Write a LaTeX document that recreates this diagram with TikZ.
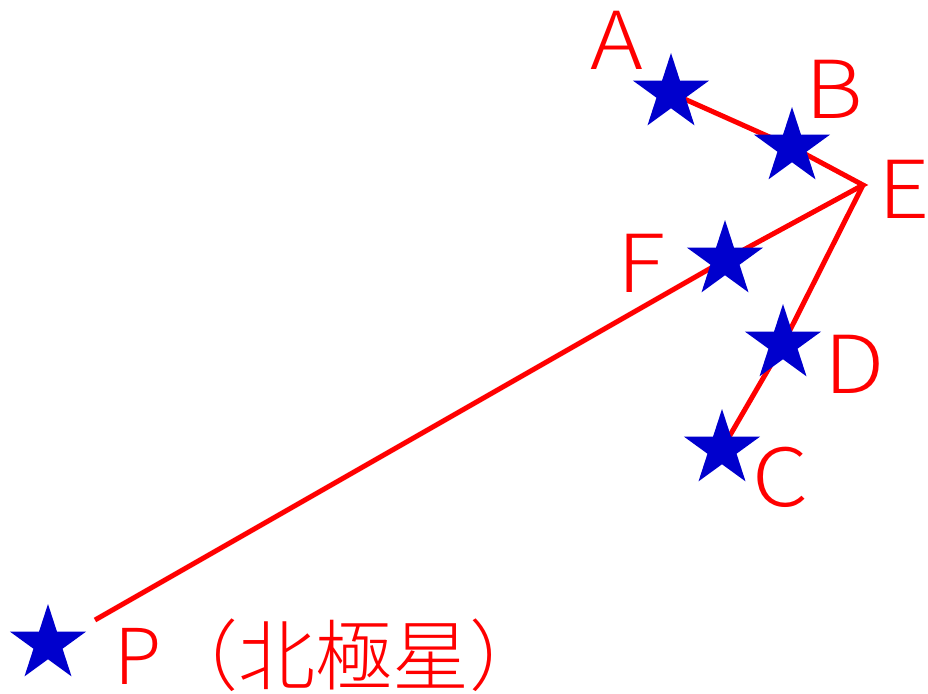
\documentclass[tikz,border=0pt]{standalone}
\usepackage{graphicx}
\usepackage{fontspec}
\setmainfont{Noto Sans CJK JP}[UprightFont={* Light}]
\usetikzlibrary{shapes.geometric}
\definecolor{starblue}{RGB}{0,0,205}
\definecolor{linered}{RGB}{255,0,0}
\newcommand{\widelbl}[1]{\scalebox{1.12}[1]{#1}}
\tikzset{
  starnode/.style={star, star points=5, star point ratio=2.618, minimum size=80pt, inner sep=0pt, fill=starblue, draw=none},
  redline/.style={draw=linered, line width=5pt, line join=miter},
  lbl/.style={text=linered, inner sep=0pt, text height=58pt, text depth=0pt, font=\fontsize{80}{80}\selectfont},
  plbl/.style={text=linered, inner sep=0pt, font=\fontsize{77}{77}\selectfont}
}
\begin{document}
\begin{tikzpicture}[x=1pt,y=-1pt]
\useasboundingbox (0,0) rectangle (928,693);
\coordinate (A) at (671,93);
\coordinate (B) at (792,147);
\coordinate (E) at (863,185);
\coordinate (F) at (725,260);
\coordinate (D) at (783,344);
\coordinate (C) at (722,449);
\coordinate (P) at (48,644);
\coordinate (Pend) at (95,620);
% connectors
\draw[redline] (A) -- (B) -- (E) -- (F) -- (Pend);
\draw[redline] (E) -- (D) -- (C);
% stars
\node[starnode] (sA) at (A) {};
\node[starnode] (sB) at (B) {};
\node[starnode] (sF) at (F) {};
\node[starnode] (sD) at (D) {};
\node[starnode] (sC) at (C) {};
\node[starnode] (sP) at (P) {};
% labels
\node[lbl, anchor=base] (lA) at (617,70) {\widelbl{A}};
\node[lbl, anchor=base] (lB) at (834,118) {\widelbl{B}};
\node[lbl, anchor=base west] (lE) at (878,218) {\widelbl{E}};
\node[lbl, anchor=base] (lF) at (641,292) {\widelbl{F}};
\node[lbl, anchor=base] (lD) at (855,393) {\widelbl{D}};
\node[lbl, anchor=base] (lC) at (781,506) {\widelbl{C}};
\node[plbl, anchor=base west] (lP) at (114,684) {P（北極星）};
\end{tikzpicture}
\end{document}
